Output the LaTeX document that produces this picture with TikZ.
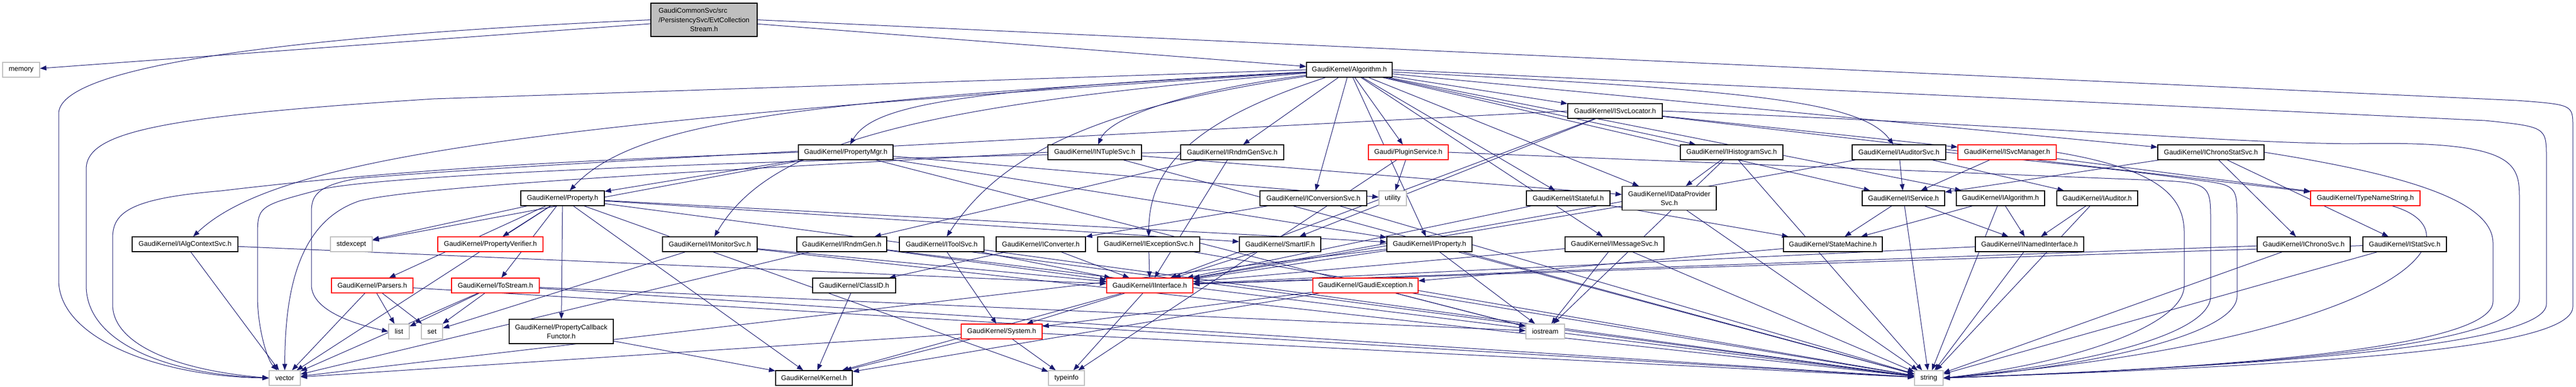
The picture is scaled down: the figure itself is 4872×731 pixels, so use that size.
\documentclass[tikz,border=0pt]{standalone}
\usepackage{fontspec}
\setmainfont{Liberation Sans}
\usetikzlibrary{arrows.meta,backgrounds}
\definecolor{edgec}{HTML}{191970}
\definecolor{grayb}{HTML}{BFBFBF}
\newcommand\dxfont{\fontsize{13}{17.3}\selectfont}
\begin{document}
\begin{tikzpicture}[x=1pt,y=-1pt,
  nd/.style={draw=black, line width=1.3pt, fill=white, inner xsep=4pt, inner ysep=0pt,
     minimum height=28pt, font=\dxfont, align=center},
  rednd/.style={nd, draw=red},
  graynd/.style={nd, draw=grayb},
  rootnd/.style={nd, fill=grayb},
  dep/.style={draw=edgec, line width=1pt, -{Triangle[length=12pt,width=9pt]}},
]
\useasboundingbox (0,0) rectangle (4872,731);
% rank 0
\node[rootnd, minimum width=201pt, minimum height=63pt] (root) at (1331.5,37.5)
  {\rlap{GaudiCommonSvc/src}\phantom{/PersistencySvc/EvtCollection}\\/PersistencySvc/EvtCollection\\Stream.h};
% rank 1
\node[graynd, minimum width=70pt] (memory) at (40,132) {memory};
\node[nd, minimum width=162pt] (alg) at (2552,132) {GaudiKernel/Algorithm.h};
% rank 2
\node[nd, minimum width=179pt] (svcloc) at (3054.5,210) {GaudiKernel/ISvcLocator.h};
% rank 3
\node[nd, minimum width=179pt] (propmgr) at (1599.5,288) {GaudiKernel/PropertyMgr.h};
\node[nd, minimum width=177pt] (ntuple) at (2070.5,288) {GaudiKernel/INTupleSvc.h};
\node[nd, minimum width=195pt] (rndmgensvc) at (2330.5,288) {GaudiKernel/IRndmGenSvc.h};
\node[rednd, minimum width=151pt] (plugin) at (2663.5,288) {Gaudi/PluginService.h};
\node[nd, minimum width=194pt] (histo) at (3275,288) {GaudiKernel/IHistogramSvc.h};
\node[nd, minimum width=177pt] (auditorsvc) at (3591.5,288) {GaudiKernel/IAuditorSvc.h};
\node[rednd, minimum width=186pt] (svcmgr) at (3796,288) {GaudiKernel/ISvcManager.h};
\node[nd, minimum width=201pt] (chronostat) at (4181.5,288) {GaudiKernel/IChronoStatSvc.h};
% rank 4
\node[nd, minimum width=158pt] (property) at (1064,375) {GaudiKernel/Property.h};
\node[nd, minimum width=202pt] (convsvc) at (2484,375) {GaudiKernel/IConversionSvc.h};
\node[graynd, minimum width=52pt] (utility) at (2634,375) {utility};
\node[nd, minimum width=158pt] (stateful) at (2966,375) {GaudiKernel/IStateful.h};
\node[nd, minimum width=178pt, minimum height=45pt] (dataprov) at (3157,375) {GaudiKernel/IDataProvider\\Svc.h};
\node[nd, minimum width=156pt] (service) at (3600,375) {GaudiKernel/IService.h};
\node[nd, minimum width=167pt] (ialg) at (3783.5,375) {GaudiKernel/IAlgorithm.h};
\node[nd, minimum width=153pt] (auditor) at (3966.5,375) {GaudiKernel/IAuditor.h};
\node[rednd, minimum width=207pt] (typename) at (4473.5,375) {GaudiKernel/TypeNameString.h};
% rank 5
\node[nd, minimum width=200pt] (algctx) at (350,462) {GaudiKernel/IAlgContextSvc.h};
\node[graynd, minimum width=79pt] (stdexcept) at (664.5,462) {stdexcept};
\node[rednd, minimum width=199pt] (propverif) at (927.5,462) {GaudiKernel/PropertyVerifier.h};
\node[nd, minimum width=179pt] (monitor) at (1342.5,462) {GaudiKernel/IMonitorSvc.h};
\node[nd, minimum width=170pt] (rndmgen) at (1592,462) {GaudiKernel/IRndmGen.h};
\node[nd, minimum width=160pt] (toolsvc) at (1781,462) {GaudiKernel/IToolSvc.h};
\node[nd, minimum width=169pt] (converter) at (1968.5,462) {GaudiKernel/IConverter.h};
\node[nd, minimum width=193pt] (excsvc) at (2172.5,462) {GaudiKernel/IExceptionSvc.h};
\node[nd, minimum width=154pt] (smartif) at (2421,462) {GaudiKernel/SmartIF.h};
\node[nd, minimum width=161pt] (iprop) at (2703.5,462) {GaudiKernel/IProperty.h};
\node[nd, minimum width=187pt] (msgsvc) at (3053.5,462) {GaudiKernel/IMessageSvc.h};
\node[nd, minimum width=187pt] (statemach) at (3466.5,462) {GaudiKernel/StateMachine.h};
\node[nd, minimum width=205pt] (named) at (3838.5,462) {GaudiKernel/INamedInterface.h};
\node[nd, minimum width=176pt] (chrono) at (4357,462) {GaudiKernel/IChronoSvc.h};
\node[nd, minimum width=158pt] (stat) at (4548,462) {GaudiKernel/IStatSvc.h};
% rank 6
\node[rednd, minimum width=154pt] (parsers) at (704,540) {GaudiKernel/Parsers.h};
\node[rednd, minimum width=166pt] (tostream) at (937,540) {GaudiKernel/ToStream.h};
\node[nd, minimum width=157pt] (classid) at (1615.5,540) {GaudiKernel/ClassID.h};
\node[rednd, minimum width=163pt] (iface) at (2174.5,540) {GaudiKernel/IInterface.h};
\node[rednd, minimum width=199pt] (gexc) at (2582.5,540) {GaudiKernel/GaudiException.h};
% rank 7
\node[graynd, minimum width=39pt] (list) at (754.5,627) {list};
\node[graynd, minimum width=40pt] (set) at (817,627) {set};
\node[nd, minimum width=197pt, minimum height=46pt] (pcf) at (1061.5,627) {GaudiKernel/PropertyCallback\\Functor.h};
\node[rednd, minimum width=153pt] (system) at (1894.5,627) {GaudiKernel/System.h};
\node[graynd, minimum width=73pt] (iostream) at (2922.5,627) {iostream};
% rank 8
\node[graynd, minimum width=59pt] (vector) at (538.5,715) {vector};
\node[nd, minimum width=145pt] (kernel) at (1539.5,715) {GaudiKernel/Kernel.h};
\node[graynd, minimum width=68pt] (typeinfo) at (2017,715) {typeinfo};
\node[graynd, minimum width=54pt] (string) at (3648,715) {string};

\begin{scope}[on background layer]
\fill[white] (0,0) rectangle (4872,731);
% root
\draw[dep] (root) -- (memory);
\draw[dep] (root) -- (alg);
\draw[dep] (root.west) .. controls (500,70) and (111,130) .. (111,215) -- (111,530) .. controls (111,640) and (300,712) .. (vector.west);
\draw[dep] (root.east) -- (4760,190) .. controls (4866,198) .. (4866,240) -- (4866,580) .. controls (4866,660) and (4400,690) .. (string.east);
% Algorithm.h
\foreach \t in {iprop,ialg,service,svcloc,msgsvc,stateful,dataprov,histo,convsvc,chronostat,rndmgensvc,plugin}
  \draw[dep] (alg) -- (\t);
\draw[dep] (alg) .. controls (1000,230) and (520,300) .. (algctx);
\draw[dep] (alg) .. controls (1500,190) and (1200,230) .. (property);
\draw[dep] (alg) .. controls (1700,200) and (1450,280) .. (monitor);
\draw[dep] (alg) .. controls (2100,200) and (1900,280) .. (toolsvc);
\draw[dep] (alg) .. controls (1800,170) and (1650,200) .. (propmgr);
\draw[dep] (alg) .. controls (2250,170) and (2100,220) .. (ntuple);
\draw[dep] (alg) .. controls (2250,230) and (2173,320) .. (excsvc);
\draw[dep] (alg) .. controls (3300,170) and (3520,190) .. (auditorsvc);
\draw[dep] (alg.west) -- (820,187) .. controls (300,220) and (163,250) .. (163,320) -- (163,540) .. controls (163,650) and (320,708) .. (vector.west);
\draw[dep] (alg.east) -- (4700,228) .. controls (4816,240) .. (4816,300) -- (4816,575) .. controls (4816,645) and (4400,688) .. (string.east);
% ISvcLocator.h
\foreach \t in {iface,svcmgr,typename,smartif}
  \draw[dep] (svcloc) -- (\t);
\draw[dep] (svcloc.west) .. controls (2000,260) and (1000,310) .. (680,337) .. controls (600,350) and (589,370) .. (589,400) -- (589,539) .. controls (589,590) and (680,615) .. (list.west);
\draw[dep] (svcloc.east) .. controls (3900,240) and (4200,270) .. (4450,272) .. controls (4765,265) and (4765,310) .. (4765,380) -- (4765,565) .. controls (4765,642) and (4400,690) .. (string.east);
% PropertyMgr.h
\foreach \t in {property,iprop,stdexcept,iostream,utility}
  \draw[dep] (propmgr) -- (\t);
\draw[dep] (propmgr.west) .. controls (1200,300) and (820,313) .. (418,361) .. controls (250,375) and (213,400) .. (213,450) -- (213,576) .. controls (213,650) and (330,700) .. (vector.west);
% rank 3 others
\foreach \t in {dataprov,string} \draw[dep] (ntuple) -- (\t);
\draw[dep] (ntuple.west) .. controls (1400,320) and (800,350) .. (680,380) .. controls (560,420) and (539,560) .. (vector);
\foreach \t in {rndmgen,iface} \draw[dep] (rndmgensvc) -- (\t);
\draw[dep] (rndmgensvc.west) .. controls (1500,300) and (700,330) .. (600,360) .. controls (487,390) .. (487,450) -- (487,560) .. controls (487,620) and (505,680) .. (vector);
\foreach \t in {utility,typeinfo} \draw[dep] (plugin) -- (\t);
\draw[dep] (plugin.east) -- (4050,340) .. controls (4181,345) .. (4181,420) -- (4181,560) .. controls (4181,640) and (3900,695) .. (string.east);
\foreach \t in {dataprov,string,iostream} \draw[dep] (histo) -- (\t);
\foreach \t in {service,auditor,iface} \draw[dep] (auditorsvc) -- (\t);
\draw[dep] (auditorsvc.east) .. controls (4000,320) .. (4150,340) .. controls (4231,350) .. (4231,420) -- (4231,560) .. controls (4231,640) and (3900,700) .. (string.east);
\foreach \t in {service,typename} \draw[dep] (svcmgr) -- (\t);
\draw[dep] (svcmgr.east) .. controls (4080,320) and (4131,370) .. (4131,440) -- (4131,540) .. controls (4131,620) and (3900,690) .. (string.east);
\foreach \t in {service,chrono,stat} \draw[dep] (chronostat) -- (\t);
\draw[dep] (chronostat.east) .. controls (4550,330) and (4715,380) .. (4715,460) -- (4715,570) .. controls (4715,640) and (4400,690) .. (string.east);
% rank 4
\foreach \t in {propverif,parsers,tostream,pcf,kernel,stdexcept,smartif,iprop,typeinfo,string,vector}
  \draw[dep] (property) -- (\t);
\foreach \t in {converter,string} \draw[dep] (convsvc) -- (\t);
\foreach \t in {statemach,iface} \draw[dep] (stateful) -- (\t);
\foreach \t in {iface,string} \draw[dep] (dataprov) -- (\t);
\foreach \t in {statemach,named,string} \draw[dep] (service) -- (\t);
\foreach \t in {statemach,named,string} \draw[dep] (ialg) -- (\t);
\foreach \t in {named,string} \draw[dep] (auditor) -- (\t);
\draw[dep] (typename) .. controls (4700,440) and (4550,640) .. (string.east);
% rank 5
\foreach \t in {vector,iface} \draw[dep] (algctx) -- (\t);
\foreach \t in {set,iface,string} \draw[dep] (monitor) -- (\t);
\foreach \t in {vector,iface,string} \draw[dep] (rndmgen) -- (\t);
\foreach \t in {system,iface,string} \draw[dep] (toolsvc) -- (\t);
\foreach \t in {classid,iface} \draw[dep] (converter) -- (\t);
\foreach \t in {iface,string} \draw[dep] (excsvc) -- (\t);
\draw[dep] (smartif) -- (iface);
\foreach \t in {iface,iostream,string,vector} \draw[dep] (iprop) -- (\t);
\foreach \t in {iface,iostream,string} \draw[dep] (msgsvc) -- (\t);
\draw[dep] (statemach) -- (gexc);
\foreach \t in {iface,string} \draw[dep] (named) -- (\t);
\foreach \t in {iface,string} \draw[dep] (chrono) -- (\t);
\foreach \t in {iface,string} \draw[dep] (stat) -- (\t);
% rank 6
\foreach \t in {list,set,vector,string} \draw[dep] (parsers) -- (\t);
\foreach \t in {set,list,vector,string,iostream} \draw[dep] (tostream) -- (\t);
\draw[dep] (classid) -- (kernel);
\foreach \t in {system,kernel,typeinfo} \draw[dep] (iface) -- (\t);
\foreach \t in {iostream,string,kernel,system} \draw[dep] (gexc) -- (\t);
% rank 7
\draw[dep] (pcf) -- (kernel);
\foreach \t in {kernel,typeinfo,string,vector} \draw[dep] (system) -- (\t);
\end{scope}
\end{tikzpicture}
\end{document}
